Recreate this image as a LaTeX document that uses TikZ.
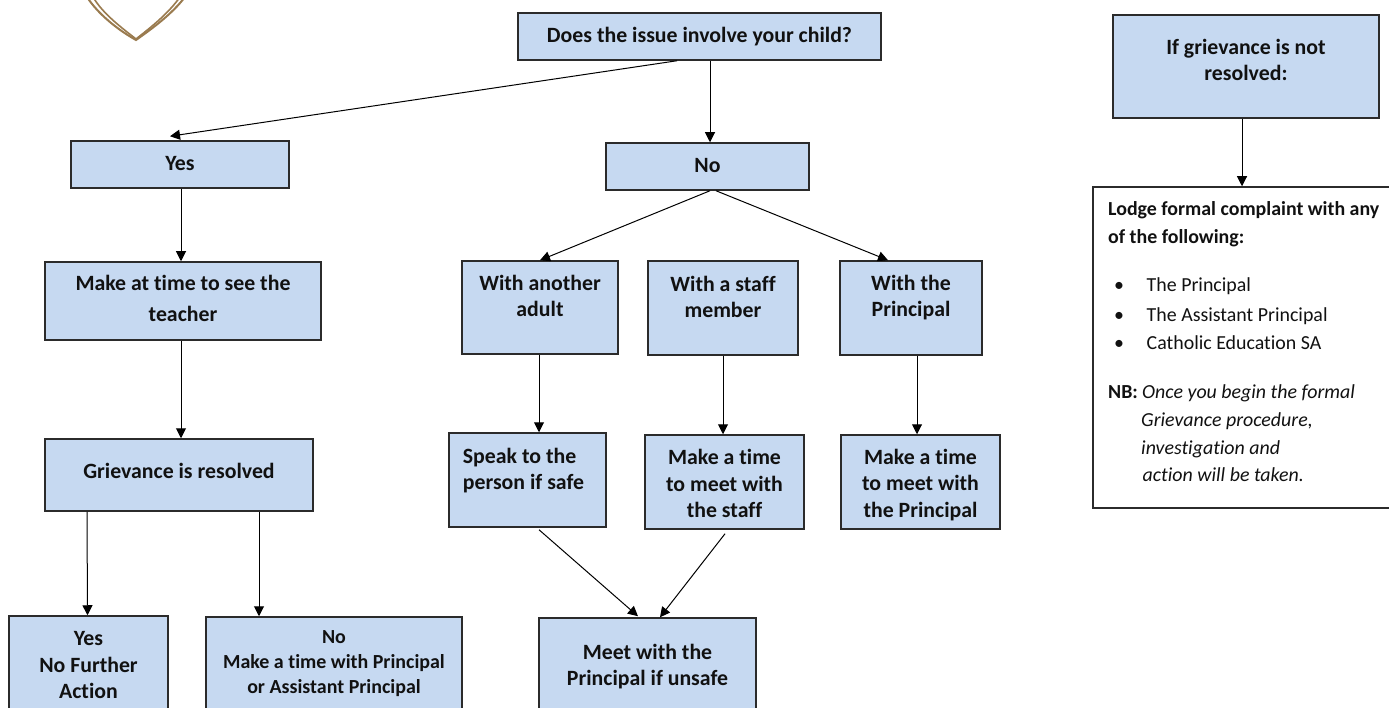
\documentclass[tikz,border=0pt]{standalone}
\usepackage{fontspec}
\setmainfont[Ligatures=NoCommon]{Carlito}
\usetikzlibrary{arrows.meta}
\definecolor{boxfill}{HTML}{C6D9F1}
\definecolor{boxline}{HTML}{2B2B2B}
\definecolor{heart}{HTML}{9A7B4F}
\definecolor{inktext}{HTML}{111111}
\tikzset{
  boxbase/.style={draw=boxline,line width=1.5pt,inner sep=0pt,align=center,text=inktext},
  fbox/.style={boxbase,fill=boxfill,font=\fontsize{21.8}{26.4}\selectfont\bfseries},
  smalltxt/.style={font=\fontsize{19.95}{25}\selectfont\bfseries},
  widegap/.style={font=\fontsize{21.8}{31}\selectfont\bfseries},
  arr/.style={draw=black,line width=1pt,-{Triangle[length=10pt,width=10pt]}},
  lodge/.style={anchor=base west,inner sep=0pt,text=inktext,font=\fontsize{19.9}{24}\selectfont},
  lodgeb/.style={lodge,font=\fontsize{19.9}{24}\selectfont\bfseries},
  lodgei/.style={lodge,font=\fontsize{19.9}{24}\selectfont\itshape},
}
\newcommand{\rbox}[6]{%
  \node[fbox,#6,minimum width=#4pt-#2pt,minimum height=#5pt-#3pt] (#1) at ({(#2+#4)/2},{(#3+#5)/2})}
\newcommand{\up}[2]{\raisebox{#1pt}[\height][\depth]{\begin{tabular}{@{}c@{}}#2\end{tabular}}}
\newcommand{\upleft}[3]{\kern#2pt\raisebox{#1pt}[\height][\depth]{\begin{tabular}{@{}l@{}}#3\end{tabular}}\kern-#2pt}
\begin{document}
\begin{tikzpicture}[x=1pt,y=-1pt]
\useasboundingbox (0,0) rectangle (1389,708);
\clip (0,0) rectangle (1389,708);
\fill[white] (0,0) rectangle (1389,708);
% heart emblem
\draw[heart,line width=2pt] (87,-3) .. controls (98,14) and (118,30) .. (136,40) .. controls (153,28) and (172,14) .. (185,-3);
\draw[heart,line width=1.6pt] (93,-3) .. controls (103,14) and (122,28) .. (136,39) .. controls (150,28) and (168,14) .. (180,-3);
% boxes
\rbox{top}{518}{13}{881}{60}{}{\up{-1}{Does the issue involve your child?}};
\rbox{yes}{71}{141}{289}{188}{}{\up{-1}{Yes}};
\rbox{no}{606}{143}{809}{190}{}{\up{-1}{No}};
\rbox{make}{45}{262}{321}{340}{widegap}{\up{1}{Make at time to see the\\teacher}};
\rbox{griev}{45}{439}{313}{511}{}{\up{2}{Grievance is resolved}};
\rbox{yesna}{9}{616}{168}{712}{}{\up{-3}{Yes\\No Further\\Action}};
\rbox{nomake}{206}{617}{462}{714}{smalltxt}{\up{2}{No\\Make a time with Principal\\or Assistant Principal}};
\rbox{another}{462}{261}{618}{354}{}{\up{9}{With another\\adult}};
\rbox{staff}{648}{261}{798}{355}{}{\up{9}{With a staff\\member}};
\rbox{principal}{840}{261}{982}{355}{}{\up{10}{With the\\Principal}};
\rbox{speak}{449}{433}{606}{527}{}{\upleft{9}{-4}{Speak to the\\person if safe}};
\rbox{tstaff}{645}{435}{804}{529}{}{\up{-4}{Make a time\\to meet with\\the staff}};
\rbox{tprincipal}{841}{435}{1000}{529}{}{\up{-3.5}{Make a time\\to meet with\\the Principal}};
\rbox{meet}{539}{618}{756}{710}{}{\up{-3}{Meet with the\\Principal if unsafe}};
\rbox{ifg}{1113}{15}{1379}{118}{}{\up{4}{If grievance is not\\resolved:}};
\node[boxbase,fill=white,minimum width=310pt,minimum height=321pt] (formal) at (1248,347.5) {};
% text of the complaint box
\node[lodgeb] (l1) at (1108,215.5) {Lodge formal complaint with any};
\node[lodgeb] (l2) at (1108,243.5) {of the following:};
\node[lodge] (b1) at (1114,291.5) {•};
\node[lodge] (b2) at (1114,321.5) {•};
\node[lodge] (b3) at (1114,350) {•};
\node[lodge] (t1) at (1146.5,291.5) {The Principal};
\node[lodge] (t2) at (1146.5,321.5) {The Assistant Principal};
\node[lodge] (t3) at (1146.5,350) {Catholic Education SA};
\node[lodgeb] (nb) at (1108,398) {NB:};
\node[lodgei] (n1) at (1142,398) {Once you begin the formal};
\node[lodgei] (n2) at (1141,426) {Grievance procedure,};
\node[lodgei] (n3) at (1141,454) {investigation and};
\node[lodgei] (n4) at (1142.5,481) {action will be taken.};
% connectors
\draw[arr] ([xshift=-22.5pt]top.south) -- ([xshift=-10pt,yshift=4pt]yes.north);
\draw[arr] ([xshift=10.5pt]top.south) -- ([xshift=2.5pt]no.north);
\draw[arr] ([xshift=1pt]yes.south) -- ([xshift=-2pt]make.north);
\draw[arr] ([xshift=-2pt]make.south) -- ([xshift=2pt]griev.north);
\draw[arr] ([xshift=-92pt]griev.south) -- ([xshift=-1pt]yesna.north);
\draw[arr] ([xshift=80pt]griev.south) -- ([xshift=-75pt]nomake.north);
\draw[arr] ([xshift=2.5pt]no.south) -- (another.north);
\draw[arr] ([xshift=8.5pt]no.south) -- ([xshift=-23pt]principal.north);
\draw[arr] ([xshift=-1pt]another.south) -- ([xshift=11.5pt]speak.north);
\draw[arr] (staff.south) -- ([xshift=-1.5pt]tstaff.north);
\draw[arr] ([xshift=6pt]principal.south) -- ([xshift=-3.5pt]tprincipal.north);
\draw[arr] ([xshift=11.5pt,yshift=-2pt]speak.south) -- ([xshift=-9.5pt,yshift=1pt]meet.north);
\draw[arr] ([xshift=0.5pt,yshift=-4pt]tstaff.south) -- ([xshift=12.5pt]meet.north);
\draw[arr] ([xshift=-4pt]ifg.south) -- ([xshift=-6pt]formal.north);
\end{tikzpicture}
\end{document}
